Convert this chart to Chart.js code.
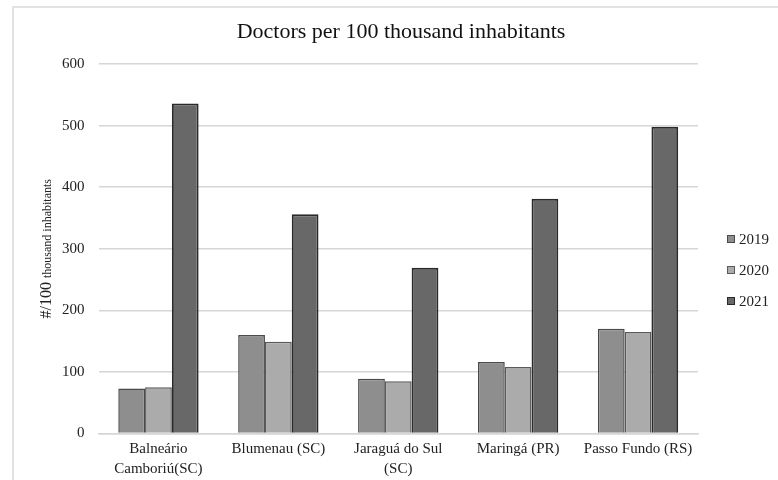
<!DOCTYPE html>
<html lang="en">
<head>
    <meta charset="UTF-8">
    <title>Doctors per 100 thousand inhabitants</title>
    <script src="https://cdn.jsdelivr.net/npm/chart.js"></script>
    <style>
        body { margin: 0; background: #fff; }
        #frame { position: absolute; left: 12px; top: 6px; width: 800px; height: 500px; border-left: 2px solid #e2e2e2; border-top: 2px solid #e2e2e2; }
        #wrap { position: absolute; left: 0; top: 0; width: 778px; height: 480px; }
    </style>
</head>
<body>
    <div id="frame"></div>
    <div id="wrap"><canvas id="chart"></canvas></div>
    <script>
        const cities = [
            ['Balneário', 'Camboriú(SC)'],
            'Blumenau (SC)',
            ['Jaraguá do Sul', '(SC)'],
            'Maringá (PR)',
            'Passo Fundo (RS)'
        ];
        const years = ['2019', '2020', '2021'];
        const values2019 = [73, 160, 89, 116, 170];
        const values2020 = [75, 149, 85, 108, 165];
        const values2021 = [536, 356, 269, 381, 498];
        const yTicks = [0, 100, 200, 300, 400, 500, 600];

        const serif = "'Liberation Serif', 'Times New Roman', serif";

        // y axis title has two font sizes, so it is drawn by hand
        const yTitlePlugin = {
            id: 'yTitle',
            afterDraw(chart) {
                const ctx = chart.ctx;
                const area = chart.chartArea;
                const big = '#/100 ';
                const small = 'thousand inhabitants';
                ctx.save();
                ctx.fillStyle = '#222';
                ctx.font = '16px ' + serif;
                const w1 = ctx.measureText(big).width;
                ctx.font = '12px ' + serif;
                const w2 = ctx.measureText(small).width;
                ctx.translate(51, (area.top + area.bottom) / 2);
                ctx.rotate(-Math.PI / 2);
                let x = -(w1 + w2) / 2;
                ctx.font = '16px ' + serif;
                ctx.fillText(big, x, 0);
                ctx.font = '12px ' + serif;
                ctx.fillText(small, x + w1, 0);
                ctx.restore();
            }
        };

        // legend sits further right than chart.js puts it, so draw it here
        const legendPlugin = {
            id: 'sideLegend',
            afterDraw(chart) {
                const ctx = chart.ctx;
                ctx.save();
                ctx.font = '15px ' + serif;
                ctx.textBaseline = 'middle';
                chart.data.datasets.forEach((ds, i) => {
                    const y = 239 + i * 31;
                    ctx.fillStyle = ds.backgroundColor;
                    ctx.fillRect(727, y - 4, 8, 8);
                    ctx.strokeStyle = ds.borderColor;
                    ctx.lineWidth = 1;
                    ctx.strokeRect(727.5, y - 3.5, 7, 7);
                    ctx.fillStyle = '#222';
                    ctx.fillText(ds.label, 739, y + 1);
                });
                ctx.restore();
            }
        };

        const ctx = document.getElementById('chart').getContext('2d');
        const chart = new Chart(ctx, {
            type: 'bar',
            data: {
                labels: cities,
                datasets: [
                    { label: years[0], data: values2019, backgroundColor: '#8e8e8e', borderColor: '#4a4a4a', borderWidth: 1.5 },
                    { label: years[1], data: values2020, backgroundColor: '#ababab', borderColor: '#5a5a5a', borderWidth: 1.5 },
                    { label: years[2], data: values2021, backgroundColor: '#686868', borderColor: '#2a2a2a', borderWidth: 2 }
                ]
            },
            options: {
                responsive: true,
                maintainAspectRatio: false,
                animation: false,
                datasets: { bar: { categoryPercentage: 0.67, barPercentage: 1.0 } },
                layout: { padding: { left: 48, right: 24, top: 8, bottom: -4 } },
                plugins: {
                    title: {
                        display: true,
                        text: 'Doctors per 100 thousand inhabitants',
                        color: '#111',
                        font: { family: serif, size: 22, weight: 'normal' },
                        padding: { top: 11, bottom: 18.6 }
                    },
                    legend: { display: false },
                    tooltip: { enabled: false }
                },
                scales: {
                    x: {
                        grid: { display: false, drawTicks: false },
                        border: { color: '#d6d6d6', width: 1.5 },
                        ticks: { color: '#222', font: { family: serif, size: 15, lineHeight: 1.35 }, padding: 5, maxRotation: 0 }
                    },
                    y: {
                        min: 0,
                        max: 600,
                        afterBuildTicks: (scale) => { scale.ticks = yTicks.map(v => ({ value: v })); },
                        grid: { color: '#d6d6d6', lineWidth: 1.5, drawTicks: false },
                        border: { display: false },
                        ticks: { color: '#222', font: { family: serif, size: 15 }, padding: 14 }
                    },
                    // empty axis that keeps room for the legend on the right
                    legendSpace: {
                        type: 'linear',
                        position: 'right',
                        grid: { display: false, drawTicks: false },
                        border: { display: false },
                        ticks: { display: false },
                        afterFit: (scale) => { scale.width = 56; }
                    }
                }
            },
            plugins: [yTitlePlugin, legendPlugin]
        });
    </script>
</body>
</html>
